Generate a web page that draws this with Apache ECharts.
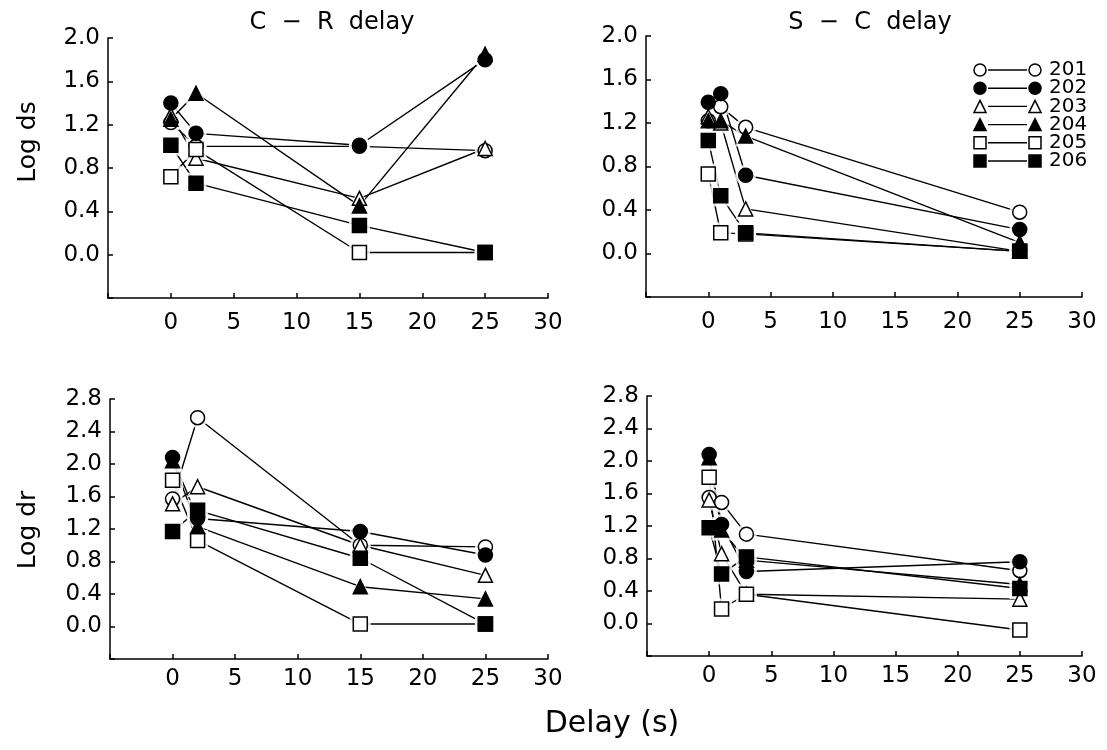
<!DOCTYPE html>
<html><head><meta charset="utf-8">
<script src="https://cdn.jsdelivr.net/npm/echarts@6/dist/echarts.min.js"></script>
<style>html,body{margin:0;padding:0;background:#fff}#c{width:1107px;height:750px}</style>
</head><body><div id="c"></div>
<script>
// ---------- data ----------
const subjects = ['201', '202', '203', '204', '205', '206'];
const delaysCR = [0, 2, 15, 25];
const delaysSC = [0, 1, 3, 25];
const logDsCR = [
  [1.22, 1.00, 1.00, 0.96],
  [1.40, 1.12, 1.01, 1.80],
  [1.29, 0.89, 0.52, 0.98],
  [1.25, 1.49, 0.45, 1.85],
  [0.72, 0.97, 0.02, 0.02],
  [1.01, 0.66, 0.27, 0.02]
];
const logDsSC = [
  [1.22, 1.35, 1.16, 0.38],
  [1.39, 1.47, 0.72, 0.22],
  [1.26, 1.20, 0.41, 0.02],
  [1.22, 1.22, 1.08, 0.10],
  [0.73, 0.19, 0.18, 0.02],
  [1.04, 0.53, 0.19, 0.02]
];
const logDrCR = [
  [1.57, 2.57, 1.00, 0.98],
  [2.08, 1.33, 1.17, 0.88],
  [1.51, 1.72, 1.00, 0.63],
  [2.04, 1.23, 0.49, 0.34],
  [1.80, 1.06, 0.03, 0.03],
  [1.17, 1.43, 0.84, 0.03]
];
const logDrSC = [
  [1.55, 1.49, 1.10, 0.65],
  [2.08, 1.22, 0.64, 0.76],
  [1.52, 0.86, 0.36, 0.30],
  [2.04, 1.15, 0.78, 0.48],
  [1.80, 0.18, 0.36, -0.08],
  [1.18, 0.61, 0.82, 0.43]
];
const xTickLabels = ['0', '5', '10', '15', '20', '25', '30'];
const dsTickLabels = ['0.0', '0.4', '0.8', '1.2', '1.6', '2.0'];
const drTickLabels = ['0.0', '0.4', '0.8', '1.2', '1.6', '2.0', '2.4', '2.8'];
const panelTitles = ['C  \u2212  R  delay', 'S  \u2212  C  delay'];
const yNames = ['Log ds', 'Log dr'];
const xName = 'Delay (s)';

// ---------- styles ----------
const FONT = 'DejaVu Sans';
const symbols = ['circle', 'circle', 'triangle', 'triangle', 'rect', 'rect'];
const filled = [false, true, false, true, false, true];
const SYM = 14;
const HALO = 21;

const panels = [
  { delays: delaysCR, vals: logDsCR, ticks: dsTickLabels, labMargin: 14, grid: { left: 108, top: 38, width: 440, height: 260 } },
  { delays: delaysSC, vals: logDsSC, ticks: dsTickLabels, labMargin: 14, grid: { left: 646, top: 36, width: 436, height: 261 } },
  { delays: delaysCR, vals: logDrCR, ticks: drTickLabels, labMargin: 9, grid: { left: 110, top: 399, width: 438, height: 260 } },
  { delays: delaysSC, vals: logDrSC, ticks: drTickLabels, labMargin: 9, grid: { left: 647, top: 396, width: 435, height: 260 } }
];

const axisLineStyle = { color: '#000', width: 1.5 };
const grid = [], xAxis = [], yAxis = [], series = [];
panels.forEach((p, k) => {
  grid.push(p.grid);
  xAxis.push({
    type: 'value', gridIndex: k, min: -5, max: 30, interval: 5,
    axisLine: { onZero: false, lineStyle: axisLineStyle },
    axisTick: { inside: true, length: 5, lineStyle: axisLineStyle },
    splitLine: { show: false },
    axisLabel: {
      color: '#000', fontFamily: FONT, fontSize: 23, margin: p.labMargin,
      formatter: v => { const s = String(Math.round(v)); return xTickLabels.indexOf(s) >= 0 ? s : ''; }
    }
  });
  yAxis.push({
    type: 'value', gridIndex: k, min: -0.4, max: p.ticks === dsTickLabels ? 2.0 : 2.8, interval: 0.4,
    axisLine: { show: true, onZero: false, lineStyle: axisLineStyle },
    axisTick: { show: true, inside: true, length: 5, lineStyle: axisLineStyle },
    splitLine: { show: false },
    axisLabel: {
      color: '#000', fontFamily: FONT, fontSize: 23, margin: 8,
      formatter: v => { const s = (Math.round(v * 10) / 10).toFixed(1); return p.ticks.indexOf(s) >= 0 ? s : ''; }
    }
  });
  subjects.forEach((name, i) => {
    const pts = p.delays.map((d, j) => [d, p.vals[i][j]]);
    // connecting lines
    series.push({
      type: 'line', name: name, xAxisIndex: k, yAxisIndex: k, data: pts,
      showSymbol: false, symbol: 'none',
      lineStyle: { color: '#000', width: 1.4 },
      emphasis: { disabled: true }, silent: true, z: 2
    });
    // white halos that open a small gap between line and marker
    series.push({
      type: 'scatter', xAxisIndex: k, yAxisIndex: k, data: pts,
      symbol: symbols[i], symbolSize: HALO,
      itemStyle: { color: '#fff', borderWidth: 0 },
      emphasis: { disabled: true }, silent: true, z: 3
    });
  });
  subjects.forEach((name, i) => {
    const pts = p.delays.map((d, j) => [d, p.vals[i][j]]);
    series.push({
      type: 'scatter', name: name, xAxisIndex: k, yAxisIndex: k, data: pts,
      symbol: symbols[i], symbolSize: SYM,
      itemStyle: { color: filled[i] ? '#000' : '#fff', borderColor: '#000', borderWidth: 1.5, opacity: 1 },
      emphasis: { disabled: true }, silent: true,
      z: filled[i] ? 5 : 4
    });
  });
});

// ---------- legend (drawn) ----------
function symbolGraphic(type, isFilled, cx, cy, size) {
  const style = { fill: isFilled ? '#000' : '#fff', stroke: '#000', lineWidth: 1.5 };
  if (type === 'circle') return { type: 'circle', shape: { cx: cx, cy: cy, r: size / 2 }, style: style, z: 100 };
  if (type === 'rect') return { type: 'rect', shape: { x: cx - size / 2, y: cy - size / 2, width: size, height: size }, style: style, z: 100 };
  return { type: 'polygon', shape: { points: [[cx, cy - size / 2], [cx + size / 2, cy + size / 2], [cx - size / 2, cy + size / 2]] }, style: style, z: 100 };
}
const graphic = [];
const LX1 = 980, LX2 = 1035, LT = 1049, LY0 = 70, LDY = 18.2, LSYM = 12;
subjects.forEach((name, i) => {
  const cy = LY0 + i * LDY;
  graphic.push(symbolGraphic(symbols[i], filled[i], LX1, cy, LSYM));
  graphic.push({ type: 'line', shape: { x1: LX1 + 8, y1: cy, x2: LX2 - 8, y2: cy }, style: { stroke: '#000', lineWidth: 1.4 }, z: 100 });
  graphic.push(symbolGraphic(symbols[i], filled[i], LX2, cy, LSYM));
  graphic.push({ type: 'text', x: LT, y: cy, style: { text: name, fill: '#000', font: '20px ' + FONT, verticalAlign: 'middle', align: 'left' }, z: 100 });
});
graphic.push({ type: 'text', x: 28, y: 142, rotation: Math.PI / 2, style: { text: yNames[0], fill: '#000', font: '25px ' + FONT, align: 'center', verticalAlign: 'middle' } });
graphic.push({ type: 'text', x: 28, y: 530, rotation: Math.PI / 2, style: { text: yNames[1], fill: '#000', font: '25px ' + FONT, align: 'center', verticalAlign: 'middle' } });

const chart = echarts.init(document.getElementById('c'), null, { renderer: 'canvas' });
chart.setOption({
  backgroundColor: '#fff',
  animation: false,
  title: [
    { text: panelTitles[0], left: 327, top: 6, textAlign: 'center', textStyle: { color: '#000', fontFamily: FONT, fontSize: 24, fontWeight: 'normal' } },
    { text: panelTitles[1], left: 865, top: 6, textAlign: 'center', textStyle: { color: '#000', fontFamily: FONT, fontSize: 24, fontWeight: 'normal' } },
    { text: xName, left: 607, top: 704, textAlign: 'center', textStyle: { color: '#000', fontFamily: FONT, fontSize: 30, fontWeight: 'normal' } }
  ],
  grid: grid, xAxis: xAxis, yAxis: yAxis, series: series, graphic: graphic,
  tooltip: { show: false }
});
</script></body></html>
